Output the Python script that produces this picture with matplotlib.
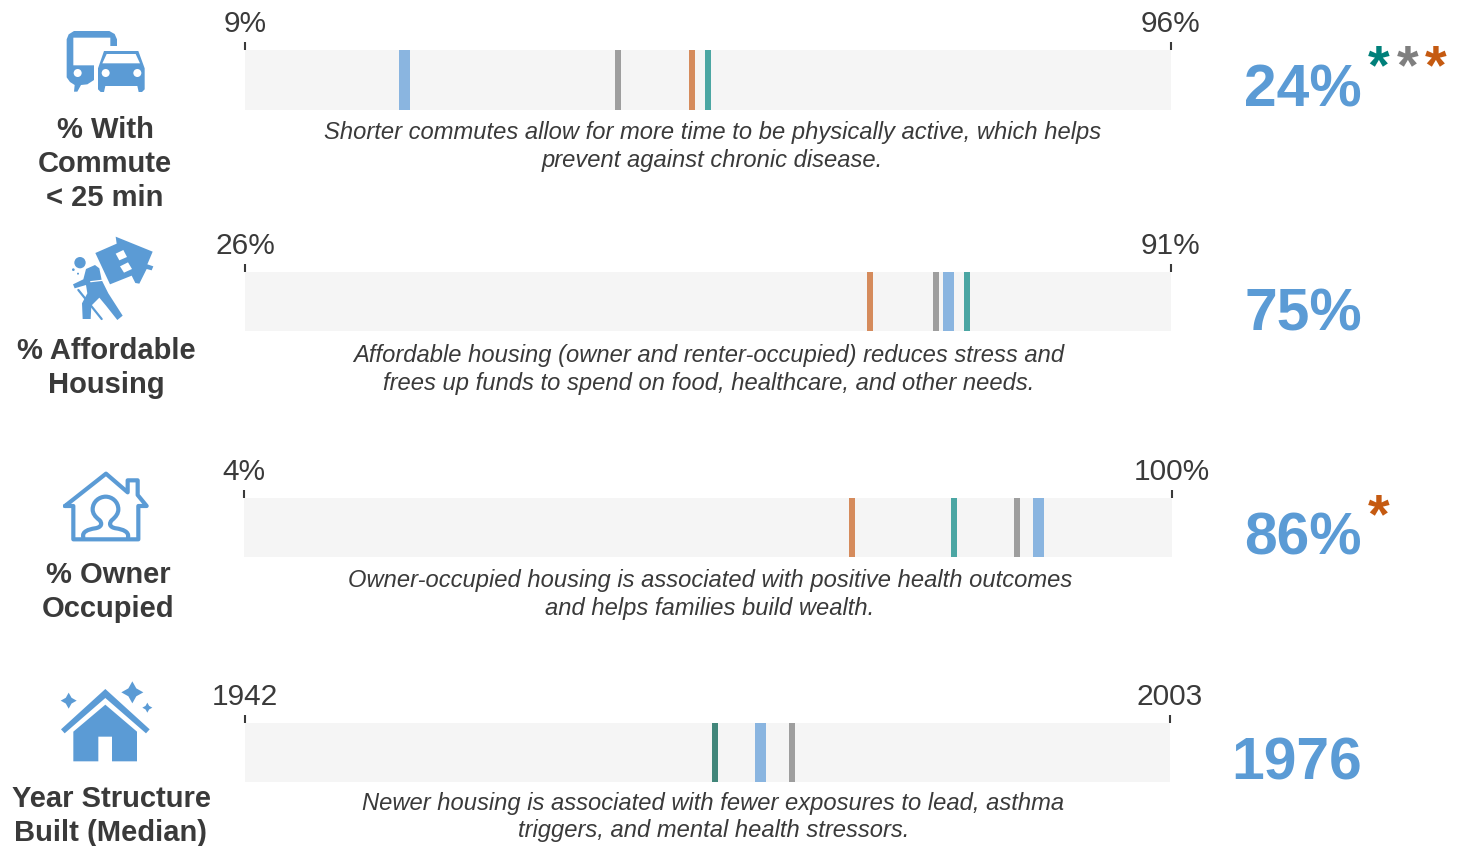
from matplotlib import pyplot as plt
from matplotlib.patches import Circle, Polygon, PathPatch
from matplotlib.path import Path

W, H = 1461, 846
BLUE = "#5b9bd5"
DARK = "#3a3a3a"
STRIP = "#f5f5f5"
C_BLUE = "#8ab5e0"
C_GRAY = "#9e9e9e"
C_ORANGE = "#d58b5c"
C_TEAL = "#4ba6a3"
C_GREEN = "#41867a"

plt.rcParams["font.family"] = ["Liberation Sans", "DejaVu Sans"]

# === values ===
axis_min = [9, 26, 4, 1942]
axis_max = [96, 91, 100, 2003]
min_labels = ["9%", "26%", "4%", "1942"]
max_labels = ["96%", "91%", "100%", "2003"]
selected = [24, 75.4, 86.2, 1976]
county = [44, 74.5, 84, 1978.1]
state = [51, 69.9, 66.9, None]
nation = [52.5, 76.7, 77.4, 1973]
big_values = ["24%", "75%", "86%", "1976"]
titles = ["% With\nCommute\n< 25 min", "% Affordable\nHousing", "% Owner\nOccupied", "Year Structure\nBuilt (Median)"]
notes = [
    "Shorter commutes allow for more time to be physically active, which helps\nprevent against chronic disease.",
    "Affordable housing (owner and renter-occupied) reduces stress and\nfrees up funds to spend on food, healthcare, and other needs.",
    "Owner-occupied housing is associated with positive health outcomes\nand helps families build wealth.",
    "Newer housing is associated with fewer exposures to lead, asthma\ntriggers, and mental health stressors.",
]

# pixel layout of each row: left, right, top, bottom of the grey strip
strips = [(245, 1171, 50, 110), (245, 1171, 272, 331), (244, 1172, 498, 557), (245, 1170, 723, 782)]
title_pos = [(105, 164), (106, 368), (108.5, 592), (111, 816)]
note_pos = [(712.5, 146.5), (708.5, 369.5), (710, 594.5), (713.5, 817)]
big_pos = [(1362, 91), (1362, 315), (1362, 539), (1362, 764)]

fig = plt.figure(figsize=(W / 100, H / 100), dpi=100)
bg = fig.add_axes([0, 0, 1, 1])
bg.set_xlim(0, W)
bg.set_ylim(H, 0)
bg.axis("off")


def zoomed(points, x0, y0):
    """把放大 3 倍的坐标换回像素坐标"""
    return [(x0 + px / 3, y0 + py / 3) for px, py in points]


def shape(points, x0, y0, color=BLUE):
    bg.add_patch(Polygon(zoomed(points, x0, y0), closed=True, fc=color, ec="none"))


def stroke(points, x0, y0, lw=3.0, color=BLUE):
    xs, ys = zip(*zoomed(points, x0, y0))
    bg.plot(xs, ys, color=color, lw=lw, solid_capstyle="round", solid_joinstyle="round")


def dot(cx, cy, r, x0, y0, color=BLUE):
    bg.add_patch(Circle((x0 + cx / 3, y0 + cy / 3), r / 3, fc=color, ec="none"))


def sparkle(cx, cy, r, x0, y0):
    k = r * 0.36
    shape([(cx, cy - r), (cx + k, cy - k), (cx + r, cy), (cx + k, cy + k),
           (cx, cy + r), (cx - k, cy + k), (cx - r, cy), (cx - k, cy - k)], x0, y0)


def icon_commute():
    # bus
    shape([(200, 118), (206, 103), (222, 93), (328, 93), (344, 102), (351, 118), (351, 138), (331, 138),
           (331, 113), (220, 113), (220, 196), (282, 196), (282, 240), (262, 253), (243, 255), (232, 275),
           (222, 275), (224, 255), (210, 246), (200, 232)], 0, 0)
    dot(233, 219, 12, 0, 0, "white")
    # car
    shape([(294, 205), (312, 153), (415, 153), (434, 205), (434, 268), (426, 276), (416, 276), (412, 258),
           (316, 258), (312, 276), (302, 276), (294, 268)], 0, 0)
    shape([(307, 190), (320, 162), (407, 162), (420, 190)], 0, 0, "white")
    dot(317, 219, 12, 0, 0, "white")
    dot(412, 219, 12, 0, 0, "white")


def icon_affordable():
    y0 = 225
    # house on the back
    shape([(347, 35), (458, 80), (442, 118), (460, 124), (455, 136), (440, 132), (418, 176), (406, 174),
           (395, 152), (330, 178), (286, 84), (350, 56)], 0, y0)
    shape([(347, 86), (370, 75), (381, 96), (358, 106)], 0, y0, "white")
    shape([(360, 124), (384, 112), (396, 132), (372, 143)], 0, y0, "white")
    # person
    dot(240, 113, 17, 0, y0)
    shape([(258, 132), (285, 120), (298, 130), (305, 165), (325, 205), (368, 272), (352, 285), (318, 242),
           (298, 218), (274, 242), (272, 282), (248, 282), (246, 235), (262, 205), (258, 180), (224, 190),
           (219, 178), (250, 163)], 0, y0)
    stroke([(272, 170), (306, 166)], 0, y0, lw=0.9, color="white")
    stroke([(235, 195), (305, 282)], 0, y0, lw=1.6)
    dot(220, 134, 4, 0, y0)
    dot(234, 146, 3, 0, y0)


def icon_owner():
    y0 = 460
    stroke([(195, 138), (318, 41), (383, 97), (383, 61), (413, 61), (413, 105), (440, 138), (415, 138),
            (415, 238), (220, 238), (220, 138), (195, 138)], 0, y0)
    verts = [(250, 232), (245, 215), (265, 208), (285, 205), (305, 202), (308, 190), (298, 180),
             (285, 170), (278, 160), (278, 148), (278, 125), (298, 110), (317, 110),
             (336, 110), (355, 125), (355, 148), (355, 160), (348, 170), (336, 180),
             (326, 190), (328, 202), (348, 205), (368, 208), (388, 215), (384, 232)]
    head = Path(zoomed(verts, 0, y0), [Path.MOVETO] + [Path.CURVE4] * 24)
    bg.add_patch(PathPatch(head, fc="none", ec=BLUE, lw=3.0, capstyle="round"))


def icon_built():
    y0 = 670
    shape([(183, 178), (316, 57), (449, 178), (438, 190), (316, 84), (194, 190)], 0, y0)
    shape([(220, 185), (316, 104), (411, 185), (411, 274), (336, 274), (336, 200), (295, 200), (295, 274),
           (220, 274)], 0, y0)
    sparkle(206, 92, 24, 0, y0)
    sparkle(397, 67, 33, 0, y0)
    sparkle(442, 113, 15, 0, y0)


icon_commute()
icon_affordable()
icon_owner()
icon_built()

for i in range(4):
    left, right, top, bottom = strips[i]
    ax = fig.add_axes([left / W, 1 - bottom / H, (right - left) / W, (bottom - top) / H])
    ax.set_xlim(axis_min[i], axis_max[i])
    ax.set_ylim(0, 1)
    ax.set_facecolor(STRIP)
    px = (axis_max[i] - axis_min[i]) / (right - left)
    marks = [(county[i], C_GRAY, 6), (state[i], C_ORANGE, 6),
             (nation[i], C_GREEN if i == 3 else C_TEAL, 6), (selected[i], C_BLUE, 11)]
    for value, color, width in marks:
        if value is not None:
            ax.bar(value, 1, width=width * px, bottom=0, color=color)
    for side in ax.spines.values():
        side.set_visible(False)
    ax.set_yticks([])
    ax.set_xticks([axis_min[i], axis_max[i]], [min_labels[i], max_labels[i]])
    ax.tick_params(axis="x", top=True, bottom=False, labeltop=True, labelbottom=False,
                   length=5.6, width=1.5, color=DARK, labelcolor=DARK, labelsize=21.5, pad=3)

    bg.text(title_pos[i][0], title_pos[i][1], titles[i], ha="center", va="center", multialignment="center",
            fontsize=21, fontweight="bold", color=DARK, linespacing=1.25)
    bg.text(note_pos[i][0], note_pos[i][1], notes[i], ha="center", va="center", multialignment="center",
            fontsize=17.15, fontstyle="italic", color=DARK, linespacing=1.26)
    bg.text(big_pos[i][0], big_pos[i][1], big_values[i], ha="right", va="center",
            fontsize=42.3, fontweight="bold", color=BLUE)

# 星号
for x, y, color in [(1379, 69, "#00807a"), (1408, 69, "#7f7f7f"), (1436, 69, "#c55a11"), (1379, 518, "#c55a11")]:
    bg.text(x, y, "*", ha="center", va="center", fontsize=40, fontweight="bold", color=color)

fig.savefig("out.png", dpi=100)
